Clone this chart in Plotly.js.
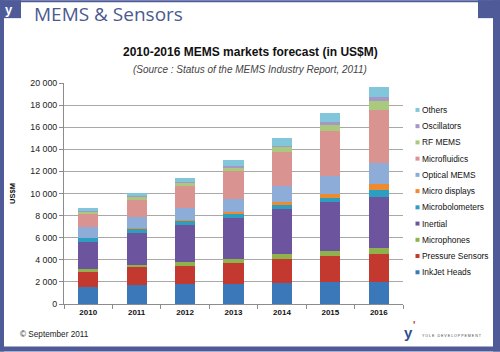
<!DOCTYPE html>
<html>
<head>
<meta charset="utf-8">
<script src="https://cdn.plot.ly/plotly-3.0.1.min.js"></script>
<style>
html,body{margin:0;padding:0;background:#fff;}
#chart{width:500px;height:352px;}
</style>
</head>
<body>
<div id="chart"></div>
<script>
// ---- data ----
var years = ["2010", "2011", "2012", "2013", "2014", "2015", "2016"];
var seriesNames = ["InkJet Heads", "Pressure Sensors", "Microphones", "Inertial", "Microbolometers",
  "Micro displays", "Optical MEMS", "Microfluidics", "RF MEMS", "Oscillators", "Others"];
var inkjet        = [1520, 1680, 1770, 1830, 1890, 1950, 2010];
var pressure      = [1420, 1650, 1710, 1920, 2190, 2430, 2520];
var microphones   = [200, 210, 300, 360, 450, 450, 540];
var inertial      = [2500, 2900, 3330, 3660, 4050, 4410, 4650];
var microbolom    = [300, 350, 360, 360, 420, 390, 600];
var microdisplays = [50, 50, 120, 180, 210, 300, 510];
var optical       = [950, 1030, 1080, 1200, 1470, 1650, 1890];
var microfluidics = [1200, 1560, 2040, 2490, 3120, 4050, 4800];
var rfmems        = [200, 210, 240, 300, 390, 540, 810];
var oscillators   = [80, 100, 90, 150, 150, 300, 390];
var others        = [250, 300, 360, 540, 690, 810, 930];
var yTicks = [0, 2000, 4000, 6000, 8000, 10000, 12000, 14000, 16000, 18000, 20000];

var seriesValues = [inkjet, pressure, microphones, inertial, microbolom, microdisplays,
  optical, microfluidics, rfmems, oscillators, others];
var colors = ["#3b78b9", "#c3392f", "#8fb24c", "#6c559e", "#2c9ec0", "#f08a2e",
  "#8eacd8", "#d99391", "#a9c97c", "#a797c7", "#82c6dc"];

// ---- geometry helpers (pixel -> paper) ----
var W = 500, H = 352, ML = 64, MR = 97, MT = 83, MB = 47.5;
var PW = W - ML - MR, PH = H - MT - MB;
function px(x) { return (x - ML) / PW; }
function py(y) { return (H - MB - y) / PH; }

var traces = seriesNames.map(function (n, i) {
  return {
    type: "bar", name: n, x: years, y: seriesValues[i],
    marker: { color: colors[i], line: { width: 0 } },
    showlegend: false, hoverinfo: "x+y+name"
  };
});

var frame = "#4f5b98";
var shapes = [
  { type: "rect", xref: "paper", yref: "paper", x0: px(0), x1: px(4), y0: py(352), y1: py(0), fillcolor: frame, line: { width: 0 } },
  { type: "rect", xref: "paper", yref: "paper", x0: px(493), x1: px(500), y0: py(352), y1: py(0), fillcolor: frame, line: { width: 0 } },
  { type: "rect", xref: "paper", yref: "paper", x0: px(0), x1: px(500), y0: py(352), y1: py(347), fillcolor: frame, line: { width: 0 } },
  { type: "rect", xref: "paper", yref: "paper", x0: px(0), x1: px(500), y0: py(2), y1: py(0), fillcolor: frame, line: { width: 0 } },
  { type: "rect", xref: "paper", yref: "paper", x0: px(0), x1: px(21), y0: py(18), y1: py(0), fillcolor: frame, line: { width: 0 } },
  { type: "rect", xref: "paper", yref: "paper", x0: px(478), x1: px(500), y0: py(18), y1: py(0), fillcolor: frame, line: { width: 0 } }
];

var annotations = [
  { text: "MEMS &amp; Sensors", xref: "paper", yref: "paper", x: px(32), y: py(14), xanchor: "left", yanchor: "middle",
    showarrow: false, font: { family: "Open Sans", size: 19, color: "#4b5a8e" } },
  { text: "<b>2010-2016 MEMS markets forecast (in US$M)</b>", xref: "paper", yref: "paper", x: px(250), y: py(52),
    xanchor: "center", yanchor: "middle", showarrow: false, font: { family: "Liberation Sans", size: 12, color: "#111" } },
  { text: "<i>(Source : Status of the MEMS Industry Report, 2011)</i>", xref: "paper", yref: "paper", x: px(250), y: py(69),
    xanchor: "center", yanchor: "middle", showarrow: false, font: { family: "Liberation Sans", size: 10, color: "#444" } },
  { text: "© September 2011", xref: "paper", yref: "paper", x: px(18), y: py(335), xanchor: "left", yanchor: "middle",
    showarrow: false, font: { family: "Liberation Sans", size: 8.2, color: "#222" } },
  { text: "<b>y</b>", xref: "paper", yref: "paper", x: px(9), y: py(9), xanchor: "center", yanchor: "middle",
    showarrow: false, font: { family: "Liberation Sans", size: 13, color: "#ffffff" } },
  { text: "<b>y</b>", xref: "paper", yref: "paper", x: px(408), y: py(333), xanchor: "center", yanchor: "middle",
    showarrow: false, font: { family: "Liberation Sans", size: 15, color: "#2f4f8f" } },
  { text: "<b>'</b>", xref: "paper", yref: "paper", x: px(414), y: py(326), xanchor: "center", yanchor: "middle",
    showarrow: false, font: { family: "Liberation Sans", size: 10, color: "#c0392b" } },
  { text: "Y O L E   D E V E L O P P E M E N T", xref: "paper", yref: "paper", x: px(420), y: py(337), xanchor: "left", yanchor: "middle",
    showarrow: false, font: { family: "Liberation Sans", size: 3.6, color: "#444" } }
];

// legend drawn from the series names (top: Others ... bottom: InkJet Heads)
var legTop = 110, legStep = 16.27;
for (var k = 0; k < seriesNames.length; k++) {
  var idx = seriesNames.length - 1 - k;
  var yc = legTop + k * legStep;
  shapes.push({ type: "rect", xref: "paper", yref: "paper", x0: px(415.5), x1: px(419.5), y0: py(yc + 2), y1: py(yc - 2),
    fillcolor: colors[idx], line: { width: 0 } });
  annotations.push({ text: seriesNames[idx], xref: "paper", yref: "paper", x: px(420.5), y: py(yc), xanchor: "left", yanchor: "middle",
    showarrow: false, font: { family: "Liberation Sans", size: 8.4, color: "#111" } });
}

var layout = {
  width: W, height: H,
  margin: { l: ML, r: MR, t: MT, b: MB, pad: 0 },
  paper_bgcolor: "#ffffff", plot_bgcolor: "#ffffff",
  barmode: "stack", bargap: 0.585,
  showlegend: false,
  separators: ", ",
  font: { family: "Liberation Sans", color: "#222" },
  xaxis: {
    type: "category", showline: true, linecolor: "#8c8c8c", linewidth: 1,
    ticks: "outside", tickson: "boundaries", ticklen: 4, tickcolor: "#8c8c8c",
    showgrid: false, tickfont: { family: "Liberation Sans", size: 8, weight: "bold", color: "#111" },
    automargin: false
  },
  yaxis: {
    range: [0, 20000], tickvals: yTicks, tickformat: ",", showline: true, linecolor: "#8c8c8c",
    ticks: "outside", ticklen: 4, tickcolor: "#8c8c8c", gridcolor: "#a8a8a8", gridwidth: 1,
    zeroline: false, tickfont: { family: "Liberation Sans", size: 8.8, color: "#222" },
    title: { text: "<b>US$M</b>", font: { family: "Liberation Sans", size: 7.5, color: "#111" }, standoff: 13 },
    automargin: false
  },
  shapes: shapes,
  annotations: annotations
};

Plotly.newPlot("chart", traces, layout, { displayModeBar: false, staticPlot: true });
</script>
</body>
</html>
